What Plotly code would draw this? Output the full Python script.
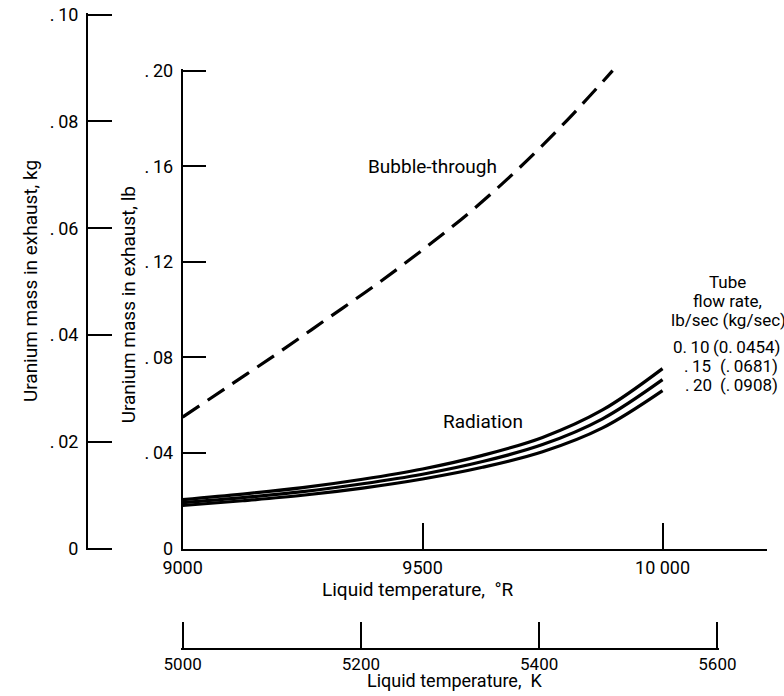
import plotly.graph_objects as go

W, H = 784, 696
FONT = "Roboto, DejaVu Sans, sans-serif"
TS = "\u2009"  # thin space used in the reference's ". 20" style numbers

# ---- data ----
temp_R = [9000, 9125, 9250, 9375, 9500, 9625, 9750, 9875, 10000]
rad_010 = [0.0205, 0.0228, 0.0255, 0.0290, 0.0333, 0.0390, 0.0465, 0.0580, 0.0753]
rad_015 = [0.0192, 0.0213, 0.0238, 0.0271, 0.0311, 0.0364, 0.0435, 0.0543, 0.0707]
rad_020 = [0.0180, 0.0200, 0.0223, 0.0253, 0.0291, 0.0340, 0.0405, 0.0505, 0.0661]

bubble_R = [9000, 9100, 9200, 9300, 9400, 9500, 9600, 9700, 9800, 9896]
bubble_lb = [0.055, 0.0685, 0.082, 0.096, 0.110, 0.125, 0.141, 0.159, 0.179, 0.200]

R_ticks = [9000, 9500, 10000]
R_ticklabels = ["9000", "9500", "10 000"]
K_ticks = [5000, 5200, 5400, 5600]
K_ticklabels = ["5000", "5200", "5400", "5600"]
lb_ticks = [0, 0.04, 0.08, 0.12, 0.16, 0.20]
lb_ticklabels = ["0", "." + TS + "04", "." + TS + "08", "." + TS + "12", "." + TS + "16", "." + TS + "20"]
kg_ticks = [0, 0.02, 0.04, 0.06, 0.08, 0.10]
kg_ticklabels = ["0", "." + TS + "02", "." + TS + "04", "." + TS + "06", "." + TS + "08", "." + TS + "10"]
flow_lb = ["0." + TS + "10", "." + TS + "15", "." + TS + "20"]
flow_kg = ["(0." + TS + "0454)", "(." + TS + "0681)", "(." + TS + "0908)"]

# target pixel positions; the captured
# page appears slightly shrunk and centred, so compensate for that
SX, OX = 0.955, 18.0
SY, OY = 0.973, 7.3


def X(x):          # picture px -> page px
    return (x - OX) / SX


def Y(y):
    return (y - OY) / SY


def px(x):
    return X(x) / W


def py(y):
    return 1 - Y(y) / H


def dpx(x):        # page px -> paper fraction
    return x / W


def dpy(y):
    return 1 - y / H


fig = go.Figure()
for vals in (rad_010, rad_015, rad_020):
    fig.add_trace(go.Scatter(x=temp_R, y=vals, mode="lines",
                             line=dict(color="black", width=3.2, shape="spline"),
                             hoverinfo="skip"))
fig.add_trace(go.Scatter(x=bubble_R, y=bubble_lb, mode="lines",
                         line=dict(color="black", width=3.2, dash="20px,10px", shape="spline"),
                         hoverinfo="skip"))
# invisible anchor trace for the secondary (K / kg) axes
fig.add_trace(go.Scatter(x=[K_ticks[0]], y=[kg_ticks[0]], xaxis="x2", yaxis="y2",
                         mode="markers", marker=dict(opacity=0), hoverinfo="skip"))

axis_common = dict(showline=True, linecolor="black", linewidth=1.7, ticks="inside",
                   tickcolor="black", tickwidth=1.6, showgrid=False, zeroline=False,
                   tickfont=dict(family=FONT, size=18, color="black"), tickmode="array")

# page-pixel scales
R0, R1 = X(181), X(662)
R_PX = (R1 - R0) / 1000
LB0, LB1 = Y(547), Y(69)
LB_PX = (LB0 - LB1) / 0.2
KG0, KG1 = Y(547), Y(13)
KG_PX = (KG0 - KG1) / 0.1
K0, K1 = X(181), X(717)
K_PX = (K1 - K0) / 600
PAD = 2.0

fig.update_layout(
    width=W, height=H, margin=dict(l=0, r=0, t=0, b=0),
    paper_bgcolor="white", plot_bgcolor="rgba(0,0,0,0)", showlegend=False,
    font=dict(family=FONT, size=18, color="black"),
    xaxis=dict(axis_common, domain=[dpx(R0), 1],
               range=[9000, 9000 + (W - R0) / R_PX],
               tickvals=R_ticks, ticktext=R_ticklabels, ticklen=26, anchor="y",
               ticklabelstandoff=2),
    yaxis=dict(axis_common, domain=[dpy(LB0), dpy(LB1 - PAD)],
               range=[0, 0.2 + PAD / LB_PX],
               tickvals=lb_ticks, ticktext=lb_ticklabels, ticklen=24, anchor="x",
               ticklabelstandoff=4),
    xaxis2=dict(axis_common, domain=[dpx(K0 - PAD), dpx(K1 + PAD)],
                range=[5000 - PAD / K_PX, 5600 + PAD / K_PX],
                tickvals=K_ticks, ticktext=K_ticklabels, ticklen=26,
                tickfont=dict(family=FONT, size=17, color="black"),
                anchor="free", position=py(647), ticklabelstandoff=0),
    yaxis2=dict(axis_common, domain=[dpy(KG0 + PAD), dpy(KG1 - PAD)],
                range=[-PAD / KG_PX, 0.1 + PAD / KG_PX],
                tickvals=kg_ticks, ticktext=kg_ticklabels, ticklen=24,
                anchor="free", position=px(85), ticklabelstandoff=4),
)

ann = []


def text(x, y, s, xanchor="center", angle=0, size=19, xref="paper", yref="paper"):
    ann.append(dict(x=x, y=y, xref=xref, yref=yref, text=s, showarrow=False,
                    xanchor=xanchor, yanchor="middle", textangle=angle,
                    font=dict(family=FONT, size=size, color="black")))


text(px(127), py(303), "Uranium mass in exhaust, lb", angle=-90)
text(dpx(max(X(22), 11)), py(279), "Uranium mass in exhaust, kg", angle=-90)
text(px(417), py(588), "Liquid temperature,  °R")
text(dpx(X(453)), dpy(690), "Liquid temperature,  K", size=18)
text(9625, 0.053, "Radiation", xref="x", yref="y")
text(9520, 0.160, "Bubble-through", xref="x", yref="y")
text(px(727), py(280), "Tube", size=17)
text(px(727), py(299), "flow rate,", size=17)
text(px(668), py(318), "lb/sec (kg/sec)", xanchor="left", size=17)
row_y = [345, 364, 383]
lb_x = [670, 682, 683]
kg_x = [711, 718, 718]
for i in range(3):
    text(px(lb_x[i]), py(row_y[i]), flow_lb[i], xanchor="left", size=17)
    text(px(kg_x[i]), py(row_y[i]), flow_kg[i], xanchor="left", size=17)

fig.update_layout(annotations=ann)
fig.write_html("out.html",
               post_script="document.body.style.margin='0';document.body.style.overflow='hidden';")
